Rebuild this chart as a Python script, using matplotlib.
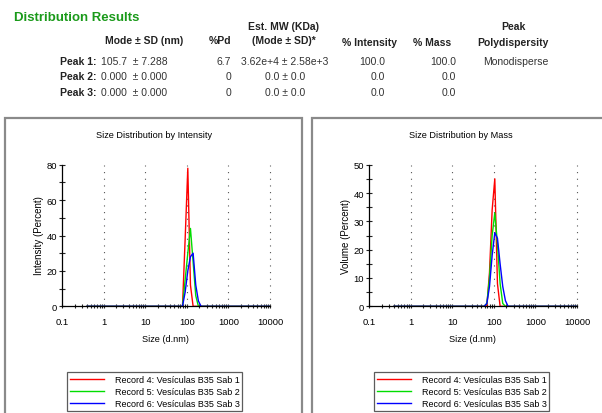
import matplotlib

matplotlib.use("Agg")

import matplotlib.pyplot as plt
from matplotlib.patches import Rectangle
from matplotlib.ticker import FixedLocator, NullFormatter

plt.rcParams["font.family"] = ["Liberation Sans", "DejaVu Sans"]

# size classes (nm) where the distributions are non-zero, plus the range ends
sizes = [0.4, 58.77, 68.06, 78.82, 91.28, 105.7, 122.4, 141.8, 164.2, 190.1, 220.2, 255.0, 10000]

records = ["Record 4: Vesículas B35 Sab 1",
           "Record 5: Vesículas B35 Sab 2",
           "Record 6: Vesículas B35 Sab 3"]
colors = ["#ff0000", "#00dd00", "#0000ff"]

intensity = [
    [0, 0, 0, 0, 38, 78, 12, 0, 0, 0, 0, 0, 0],
    [0, 0, 0, 0, 15, 30, 44, 25, 6, 0, 0, 0, 0],
    [0, 0, 0, 0, 8, 20, 28, 30, 12, 3, 0, 0, 0],
]
mass = [
    [0, 0, 0, 12, 34, 45, 8, 0, 0, 0, 0, 0, 0],
    [0, 0, 1, 10, 25, 33, 22, 8, 1, 0, 0, 0, 0],
    [0, 0, 1, 7, 18, 26, 24, 15, 7, 2, 0, 0, 0],
]

# summary table
headers = ["Mode ± SD (nm)", "%Pd", "(Mode ± SD)*", "% Intensity", "% Mass", "Polydispersity"]
peaks = ["Peak 1:", "Peak 2:", "Peak 3:"]
mode_sd = ["105.7  ± 7.288", "0.000  ± 0.000", "0.000  ± 0.000"]
pd = ["6.7", "0", "0"]
mw = ["3.62e+4 ± 2.58e+3", "0.0 ± 0.0", "0.0 ± 0.0"]
pct_int = ["100.0", "0.0", "0.0"]
pct_mass = ["100.0", "0.0", "0.0"]
poly = ["Monodisperse", "", ""]

W, H = 602, 414
fig = plt.figure(figsize=(W / 100, H / 100), dpi=100)


def fx(px):
    return px / W


def fy(py):
    return 1 - py / H


# table
hdr = dict(fontsize=7.5, fontweight="bold", color="#222222")
val = dict(fontsize=7.5, color="#333333")
fig.text(fx(14), fy(18), "Distribution Results", fontsize=9.5, fontweight="bold",
         color="#1a9a1a", va="center", ha="left")
fig.text(fx(284), fy(27), "Est. MW (KDa)", ha="center", va="center", **hdr)
fig.text(fx(513), fy(27), "Peak", ha="center", va="center", **hdr)
for x, y, h in zip([144, 220, 284, 369, 432, 513], [41, 41, 41, 43, 43, 43], headers):
    fig.text(fx(x), fy(y), h, ha="center", va="center", **hdr)
for i, y in enumerate([62, 77.5, 93]):
    fig.text(fx(96), fy(y), peaks[i], ha="right", va="center", **hdr)
    fig.text(fx(101), fy(y), mode_sd[i], ha="left", va="center", **val)
    fig.text(fx(231), fy(y), pd[i], ha="right", va="center", **val)
    fig.text(fx(285), fy(y), mw[i], ha="center", va="center", **val)
    fig.text(fx(385), fy(y), pct_int[i], ha="right", va="center", **val)
    fig.text(fx(456), fy(y), pct_mass[i], ha="right", va="center", **val)
    fig.text(fx(516), fy(y), poly[i], ha="center", va="center", **val)

panels = [
    dict(x0=5, title="Size Distribution by Intensity", ylabel="Intensity (Percent)",
         data=intensity, ymax=80, major=20, minor=10),
    dict(x0=312, title="Size Distribution by Mass", ylabel="Volume (Percent)",
         data=mass, ymax=50, major=10, minor=5),
]

for p in panels:
    x0 = p["x0"]
    fig.patches.append(Rectangle((fx(x0), fy(440)), fx(297), (440 - 119) / H,
                                 transform=fig.transFigure, fill=False,
                                 edgecolor="#8a8a8a", lw=1.6))
    ax = fig.add_axes([fx(x0 + 57), fy(307.3), fx(208), (307.3 - 165.7) / H])
    for xv in [1, 10, 100, 1000, 10000]:
        ax.axvline(xv, color="#555555", lw=0.8, linestyle=(0, (1, 5)), clip_on=False)
    for vals, c, lab in zip(p["data"], colors, records):
        ax.plot(sizes, vals, color=c, lw=1.0, label=lab)
    ax.set_xscale("log")
    ax.set_xlim(0.1, 10000)
    ax.set_ylim(0, p["ymax"])
    for s in ["top", "right"]:
        ax.spines[s].set_visible(False)
    ax.spines["left"].set_linewidth(0.9)
    ax.spines["bottom"].set_linewidth(0.9)
    ax.set_xticks([0.1, 1, 10, 100, 1000, 10000], ["0.1", "1", "10", "100", "1000", "10000"])
    ax.xaxis.set_minor_locator(FixedLocator(
        [m * 10.0 ** e for e in range(-1, 4) for m in range(2, 10)]))
    ax.xaxis.set_minor_formatter(NullFormatter())
    ax.set_yticks(range(0, p["ymax"] + 1, p["major"]))
    ax.yaxis.set_minor_locator(FixedLocator(range(0, p["ymax"] + 1, p["minor"])))
    ax.tick_params(axis="both", which="both", direction="inout", labelsize=6.8,
                   color="#222222", width=0.8)
    ax.tick_params(axis="y", which="major", length=5, pad=1)
    ax.tick_params(axis="y", which="minor", length=5)
    ax.tick_params(axis="x", which="major", length=3, pad=6)
    ax.tick_params(axis="x", which="minor", length=3)
    fig.text(fx(x0 + 149), fy(136), p["title"], ha="center", va="center", fontsize=6.6)
    fig.text(fx(x0 + 34), fy(236), p["ylabel"], ha="center", va="center",
             rotation=90, fontsize=7)
    fig.text(fx(x0 + 160), fy(340), "Size (d.nm)", ha="center", va="center", fontsize=6.6)
    leg = ax.legend(loc="upper left", bbox_to_anchor=(fx(x0 + 62), fy(373)),
                    bbox_transform=fig.transFigure, fontsize=6.5, frameon=True,
                    fancybox=False, borderaxespad=0, handlelength=3.8,
                    handletextpad=1.2, borderpad=0.3, labelspacing=0.35)
    leg.get_frame().set_edgecolor("#333333")
    leg.get_frame().set_linewidth(0.9)

fig.savefig("out.png", dpi=100)
